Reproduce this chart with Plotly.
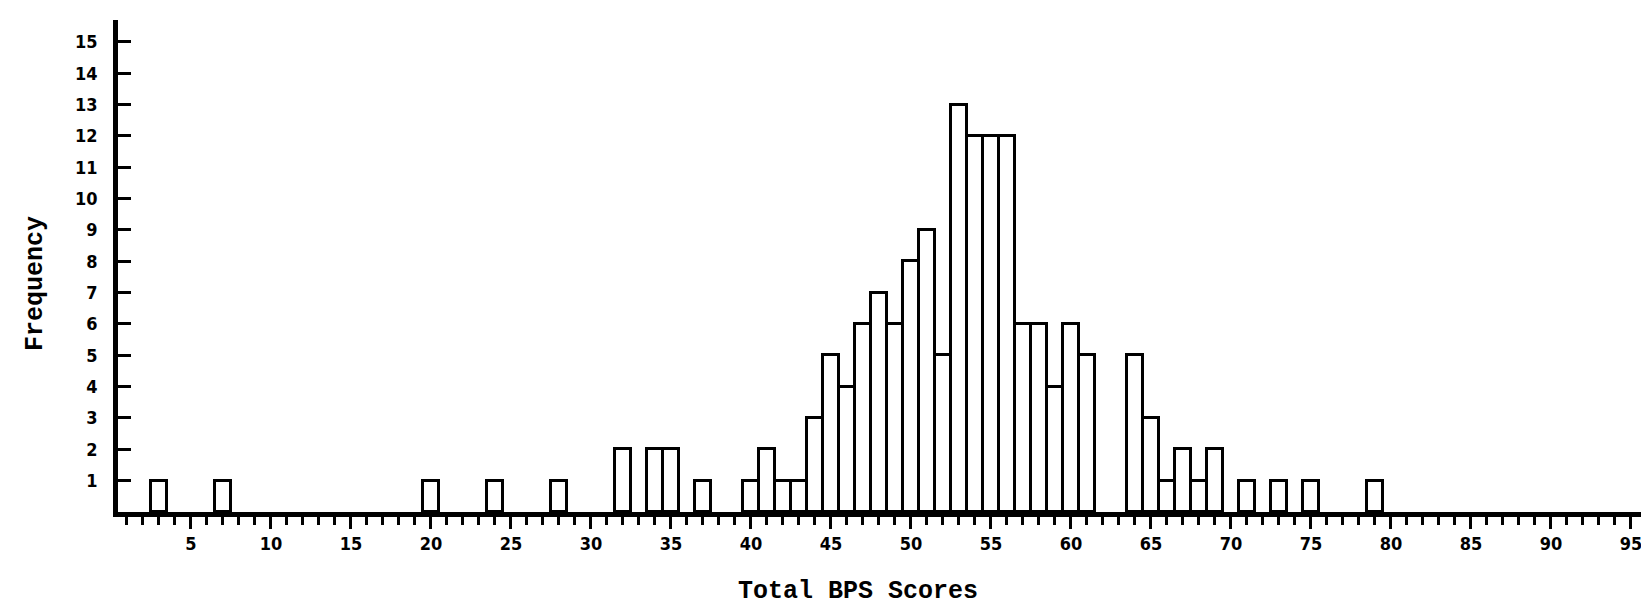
import plotly.graph_objects as go

scores = [3, 7, 20, 24, 28, 32, 34, 35, 37, 40, 41, 42, 43, 44, 45, 46, 47, 48, 49,
          50, 51, 52, 53, 54, 55, 56, 57, 58, 59, 60, 61, 64, 65, 66, 67, 68, 69,
          71, 73, 75, 79]
freq = [1, 1, 1, 1, 1, 2, 2, 2, 1, 1, 2, 1, 1, 3, 5, 4, 6, 7, 6,
        8, 9, 5, 13, 12, 12, 12, 6, 6, 4, 6, 5, 5, 3, 1, 2, 1, 2,
        1, 1, 1, 1]
x_ticks = list(range(5, 100, 5))
y_ticks = list(range(1, 16))

fig = go.Figure()
fig.add_trace(go.Bar(
    x=scores, y=freq, width=1.0,
    marker=dict(color="white", line=dict(color="black", width=3)),
    showlegend=False,
))

tick_font = dict(family="DejaVu Sans Condensed", size=18, color="black", weight="bold")

fig.update_layout(
    width=1649, height=603,
    margin=dict(l=110, r=11, t=12, b=99),
    paper_bgcolor="white", plot_bgcolor="white",
    bargap=0,
    xaxis=dict(
        range=[0.44, 95.94], showgrid=False, zeroline=False,
        showline=True, linecolor="black", linewidth=4.5,
        tickmode="array", tickvals=x_ticks, ticktext=[str(v) for v in x_ticks],
        ticks="outside", ticklen=12, tickwidth=2.5, tickcolor="black",
        minor=dict(dtick=1, ticks="outside", ticklen=8, tickwidth=2.5, tickcolor="black"),
        tickfont=tick_font,
    ),
    yaxis=dict(
        range=[0, 15.7], showgrid=False, zeroline=False,
        showline=True, linecolor="black", linewidth=4.5,
        tickmode="array", tickvals=y_ticks, ticktext=[str(v) for v in y_ticks],
        ticks="inside", ticklen=13, tickwidth=2.5, tickcolor="black",
        ticklabelstandoff=12,
        tickfont=tick_font,
    ),
    annotations=[
        dict(text="Total BPS Scores", xref="paper", yref="paper",
             x=0.4843, y=-0.1626, xanchor="center", yanchor="middle", showarrow=False,
             font=dict(family="Liberation Mono", size=25, color="black", weight="bold")),
        dict(text="Frequency", xref="paper", yref="paper",
             x=-0.0543, y=0.4634, xanchor="center", yanchor="middle", showarrow=False,
             textangle=-90,
             font=dict(family="Liberation Mono", size=25, color="black", weight="bold")),
    ],
)

fig.write_html("out.html")
